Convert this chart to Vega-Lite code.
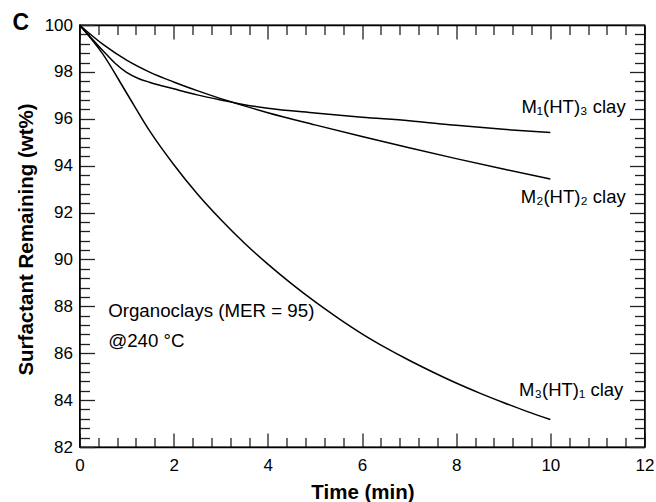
{
  "$schema": "https://vega.github.io/schema/vega-lite/v6.json",
  "width": 565,
  "height": 422,
  "autosize": "none",
  "padding": {"left": 79.5, "top": 25, "right": 11.5, "bottom": 55},
  "title": {"text": "C", "anchor": "start", "frame": "group", "dx": -67, "dy": 37, "offset": 0, "baseline": "alphabetic", "font": "Liberation Sans", "fontSize": 23, "fontWeight": "bold", "color": "black"},
  "datasets": {
    "curves": [
      {"series": "M1", "t": 0, "v": 100},
      {"series": "M1", "t": 0.25, "v": 99.45},
      {"series": "M1", "t": 0.5, "v": 98.9},
      {"series": "M1", "t": 0.75, "v": 98.38},
      {"series": "M1", "t": 1.0, "v": 97.98},
      {"series": "M1", "t": 1.25, "v": 97.72},
      {"series": "M1", "t": 1.5, "v": 97.55},
      {"series": "M1", "t": 2.0, "v": 97.28},
      {"series": "M1", "t": 2.5, "v": 97.02},
      {"series": "M1", "t": 3.0, "v": 96.8},
      {"series": "M1", "t": 3.5, "v": 96.6},
      {"series": "M1", "t": 4.0, "v": 96.45},
      {"series": "M1", "t": 5.0, "v": 96.25},
      {"series": "M1", "t": 6.0, "v": 96.07},
      {"series": "M1", "t": 7.0, "v": 95.92},
      {"series": "M1", "t": 8.0, "v": 95.72},
      {"series": "M1", "t": 9.0, "v": 95.55},
      {"series": "M1", "t": 10.0, "v": 95.41},
      {"series": "M2", "t": 0, "v": 100},
      {"series": "M2", "t": 0.5, "v": 99.17},
      {"series": "M2", "t": 1.0, "v": 98.5},
      {"series": "M2", "t": 1.5, "v": 97.98},
      {"series": "M2", "t": 2.0, "v": 97.57},
      {"series": "M2", "t": 2.5, "v": 97.2},
      {"series": "M2", "t": 3.0, "v": 96.86},
      {"series": "M2", "t": 3.5, "v": 96.55},
      {"series": "M2", "t": 4.0, "v": 96.26},
      {"series": "M2", "t": 5.0, "v": 95.74},
      {"series": "M2", "t": 6.0, "v": 95.24},
      {"series": "M2", "t": 7.0, "v": 94.76},
      {"series": "M2", "t": 8.0, "v": 94.3},
      {"series": "M2", "t": 9.0, "v": 93.86},
      {"series": "M2", "t": 10.0, "v": 93.43},
      {"series": "M3", "t": 0, "v": 100},
      {"series": "M3", "t": 0.5, "v": 98.75},
      {"series": "M3", "t": 1.0, "v": 97.1},
      {"series": "M3", "t": 1.5, "v": 95.45},
      {"series": "M3", "t": 2.0, "v": 94.05},
      {"series": "M3", "t": 2.5, "v": 92.8},
      {"series": "M3", "t": 3.0, "v": 91.7},
      {"series": "M3", "t": 3.5, "v": 90.7},
      {"series": "M3", "t": 4.0, "v": 89.8},
      {"series": "M3", "t": 4.5, "v": 88.97},
      {"series": "M3", "t": 5.0, "v": 88.2},
      {"series": "M3", "t": 5.5, "v": 87.49},
      {"series": "M3", "t": 6.0, "v": 86.83},
      {"series": "M3", "t": 6.5, "v": 86.24},
      {"series": "M3", "t": 7.0, "v": 85.7},
      {"series": "M3", "t": 7.5, "v": 85.2},
      {"series": "M3", "t": 8.0, "v": 84.73},
      {"series": "M3", "t": 8.5, "v": 84.3},
      {"series": "M3", "t": 9.0, "v": 83.9},
      {"series": "M3", "t": 9.5, "v": 83.52},
      {"series": "M3", "t": 10.0, "v": 83.17}
    ],
    "curveLabels": [
      {"label": "M₁(HT)₃ clay", "t": 11.6, "v": 96.25},
      {"label": "M₂(HT)₂ clay", "t": 11.6, "v": 92.42},
      {"label": "M₃(HT)₁ clay", "t": 11.55, "v": 84.17}
    ],
    "notes": [
      {"label": "Organoclays (MER = 95)", "t": 0.61, "v": 87.56},
      {"label": "@240 °C", "t": 0.61, "v": 86.28}
    ]
  },
  "layer": [
    {
      "data": {"name": "curves"},
      "mark": {"type": "line", "interpolate": "monotone", "color": "black", "strokeWidth": 1.5},
      "encoding": {
        "x": {"field": "t", "type": "quantitative", "scale": {"domain": [0, 12], "nice": false, "zero": false},
          "axis": {"orient": "bottom", "values": [0,0.4,0.8,1.2,1.6,2,2.4,2.8,3.2,3.6,4,4.4,4.8,5.2,5.6,6,6.4,6.8,7.2,7.6,8,8.4,8.8,9.2,9.6,10,10.4,10.8,11.2,11.6,12],
            "labelExpr": "abs(datum.value/2 - round(datum.value/2)) < 0.01 ? format(datum.value, 'd') : ''",
            "tickSize": {"condition": {"test": "abs(datum.value/2 - round(datum.value/2)) < 0.01", "value": -14}, "value": -9.5},
            "labelPadding": 24, "labelFlush": false, "labelOverlap": false,
            "title": "Time (min)", "titleFontWeight": "bold", "titleX": 283, "titleY": 51, "titleBaseline": "alphabetic"}},
        "y": {"field": "v", "type": "quantitative", "scale": {"domain": [82, 100], "nice": false, "zero": false},
          "axis": {"orient": "left", "values": [82,82.4,82.8,83.2,83.6,84,84.4,84.8,85.2,85.6,86,86.4,86.8,87.2,87.6,88,88.4,88.8,89.2,89.6,90,90.4,90.8,91.2,91.6,92,92.4,92.8,93.2,93.6,94,94.4,94.8,95.2,95.6,96,96.4,96.8,97.2,97.6,98,98.4,98.8,99.2,99.6,100],
            "labelExpr": "abs(datum.value/2 - round(datum.value/2)) < 0.01 ? format(datum.value, 'd') : ''",
            "tickSize": {"condition": {"test": "abs(datum.value/2 - round(datum.value/2)) < 0.01", "value": -15}, "value": -10},
            "labelPadding": 22, "labelFlush": false, "labelOverlap": false,
            "title": "Surfactant Remaining (wt%)", "titleFontWeight": "bold", "titleX": -47.5, "titleY": 214, "titleBaseline": "alphabetic"}},
        "detail": {"field": "series"}
      }
    },
    {
      "data": {"name": "curves"},
      "mark": {"type": "line", "opacity": 0},
      "encoding": {
        "x": {"field": "t", "type": "quantitative",
          "axis": {"orient": "top", "values": [0,0.4,0.8,1.2,1.6,2,2.4,2.8,3.2,3.6,4,4.4,4.8,5.2,5.6,6,6.4,6.8,7.2,7.6,8,8.4,8.8,9.2,9.6,10,10.4,10.8,11.2,11.6,12],
            "labels": false, "title": null,
            "tickSize": {"condition": {"test": "abs(datum.value/2 - round(datum.value/2)) < 0.01", "value": -14}, "value": -9.5}}},
        "y": {"field": "v", "type": "quantitative",
          "axis": {"orient": "right", "values": [82,82.4,82.8,83.2,83.6,84,84.4,84.8,85.2,85.6,86,86.4,86.8,87.2,87.6,88,88.4,88.8,89.2,89.6,90,90.4,90.8,91.2,91.6,92,92.4,92.8,93.2,93.6,94,94.4,94.8,95.2,95.6,96,96.4,96.8,97.2,97.6,98,98.4,98.8,99.2,99.6,100],
            "labels": false, "title": null,
            "tickSize": {"condition": {"test": "abs(datum.value/2 - round(datum.value/2)) < 0.01", "value": -15}, "value": -10}}},
        "detail": {"field": "series"}
      }
    },
    {
      "data": {"name": "curveLabels"},
      "mark": {"type": "text", "align": "right", "baseline": "alphabetic", "font": "Liberation Sans", "fontSize": 18.5, "color": "black"},
      "encoding": {
        "x": {"field": "t", "type": "quantitative", "axis": null},
        "y": {"field": "v", "type": "quantitative", "axis": null},
        "text": {"field": "label"}
      }
    },
    {
      "data": {"name": "notes"},
      "mark": {"type": "text", "align": "left", "baseline": "alphabetic", "font": "Liberation Sans", "fontSize": 18.7, "color": "black"},
      "encoding": {
        "x": {"field": "t", "type": "quantitative", "axis": null},
        "y": {"field": "v", "type": "quantitative", "axis": null},
        "text": {"field": "label"}
      }
    }
  ],
  "resolve": {"axis": {"x": "independent", "y": "independent"}},
  "config": {
    "view": {"stroke": "black", "strokeWidth": 1.3},
    "axis": {"domainColor": "black", "domainWidth": 1.3, "tickColor": "#222", "tickWidth": 1.3, "grid": false,
      "labelFont": "Liberation Sans", "labelFontSize": 17, "labelColor": "black",
      "titleFont": "Liberation Sans", "titleFontSize": 20.5, "titleColor": "black"}
  }
}
